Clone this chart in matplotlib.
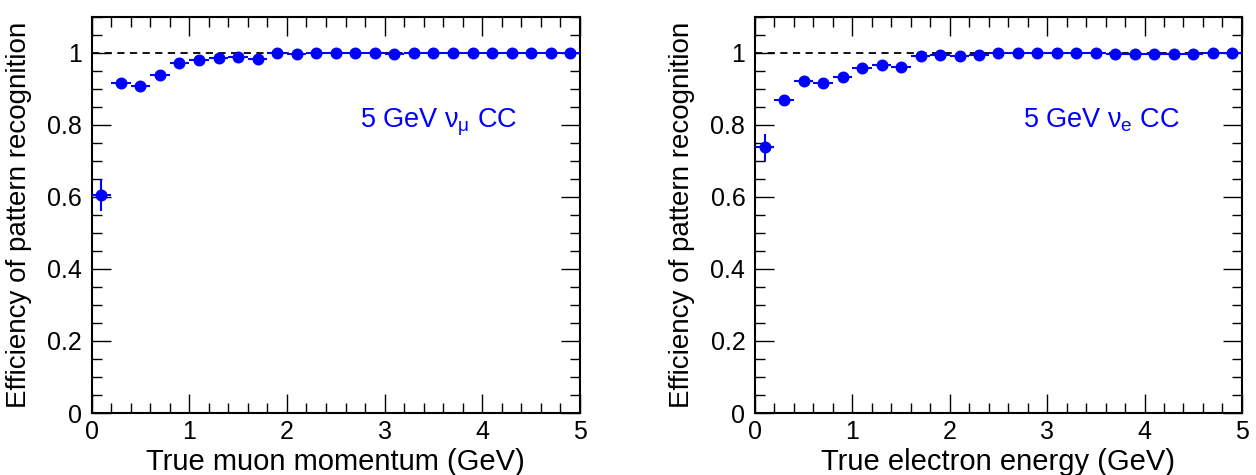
import numpy as np
import matplotlib
matplotlib.use("Agg")
import matplotlib.pyplot as plt
from matplotlib.ticker import MultipleLocator, FormatStrFormatter

plt.rcParams['font.family'] = ['Liberation Sans', 'DejaVu Sans']
plt.rcParams['mathtext.fontset'] = 'custom'
plt.rcParams['mathtext.rm'] = 'Liberation Sans'
plt.rcParams['mathtext.it'] = 'Liberation Sans'

# bin centres (0.2 GeV bins)
x = np.arange(0.1, 5.0, 0.2)
xerr = 0.1

muon_eff = [0.605, 0.915, 0.908, 0.938, 0.970, 0.980, 0.984, 0.989, 0.981, 0.998,
            0.995, 0.998, 0.998, 0.998, 1.0, 0.996, 0.999, 0.999, 0.999, 0.999,
            0.999, 0.999, 0.999, 0.999, 0.999]
muon_err = [0.045, 0.012, 0.010, 0.008, 0.006, 0.005, 0.005, 0.004, 0.005, 0.003,
            0.003, 0.002, 0.002, 0.002, 0.001, 0.002, 0.001, 0.001, 0.001, 0.001,
            0.001, 0.001, 0.001, 0.001, 0.001]

elec_eff = [0.737, 0.869, 0.920, 0.916, 0.933, 0.957, 0.965, 0.961, 0.991, 0.992,
            0.990, 0.994, 0.999, 0.999, 0.999, 0.999, 0.999, 0.999, 0.996, 0.997,
            0.997, 0.997, 0.995, 0.999, 0.999]
elec_err = [0.037, 0.012, 0.008, 0.008, 0.007, 0.006, 0.005, 0.005, 0.003, 0.003,
            0.003, 0.002, 0.001, 0.001, 0.001, 0.001, 0.001, 0.001, 0.002, 0.002,
            0.002, 0.002, 0.002, 0.001, 0.001]


def make_panel(ax, y, yerr, xlabel, label):
    ax.axhline(1.0, color='black', ls=(0, (4, 3)), lw=1.3, zorder=1)
    ax.errorbar(x, y, xerr=xerr, yerr=yerr, fmt='o', color='#0000ff',
                ms=7.6, elinewidth=1.5, capsize=0, zorder=3)
    ax.set_xlim(0, 5)
    ax.set_ylim(0, 1.1)
    ax.xaxis.set_major_locator(MultipleLocator(1))
    ax.xaxis.set_minor_locator(MultipleLocator(0.2))
    ax.yaxis.set_major_locator(MultipleLocator(0.2))
    ax.yaxis.set_minor_locator(MultipleLocator(0.05))
    ax.yaxis.set_major_formatter(FormatStrFormatter('%g'))
    ax.tick_params(which='both', direction='in', top=True, right=True,
                   labelsize=18, width=1)
    ax.tick_params(axis='y', pad=7)
    ax.tick_params(axis='x', pad=5)
    ax.tick_params(which='major', length=14)
    ax.tick_params(which='minor', length=7)
    for s in ax.spines.values():
        s.set_linewidth(1.5)
    ax.set_xlabel(xlabel, fontsize=21, labelpad=3)
    ax.set_ylabel('Efficiency of pattern recognition', fontsize=20, labelpad=11)
    ax.text(0.55, 0.72, label, transform=ax.transAxes, color='#0000ff',
            fontsize=19.5)


fig = plt.figure(figsize=(12.56, 4.75), dpi=100)
ax1 = fig.add_axes([0.0729, 0.1305, 0.3889, 0.8347])
ax2 = fig.add_axes([0.6011, 0.1305, 0.3877, 0.8347])

make_panel(ax1, muon_eff, muon_err, 'True muon momentum (GeV)',
           r'5 GeV $\nu_{\mu}$ CC')
make_panel(ax2, elec_eff, elec_err, 'True electron energy (GeV)',
           r'5 GeV $\nu_{e}$ CC')

fig.savefig('out.png', dpi=100)
